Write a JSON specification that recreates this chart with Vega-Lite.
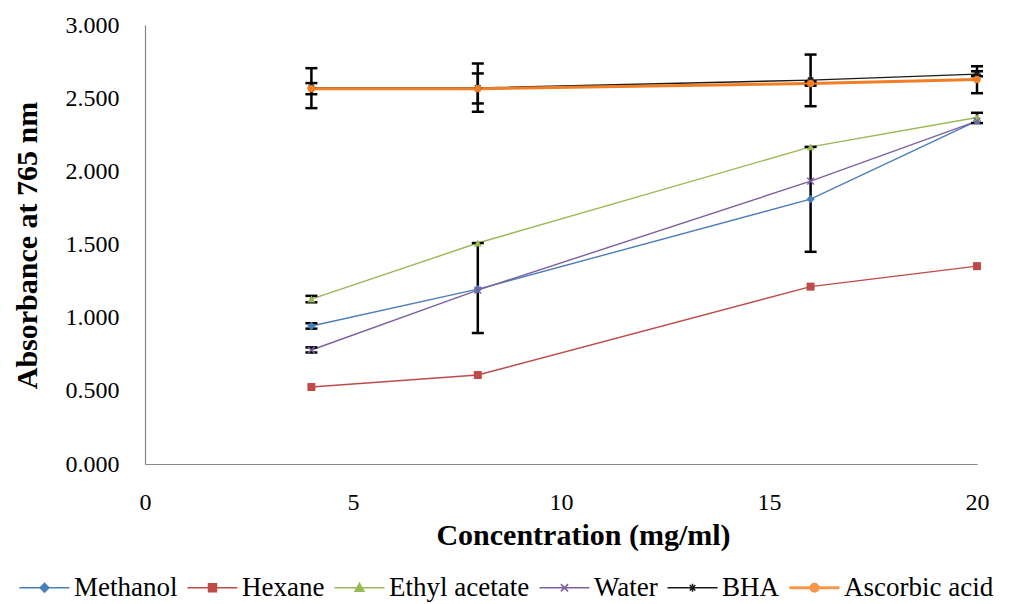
{
  "$schema": "https://vega.github.io/schema/vega-lite/v6.json",
  "width": 832,
  "height": 439,
  "autosize": {"type": "none"},
  "padding": {"left": 145, "top": 25, "right": 43, "bottom": 140},
  "background": "white",
  "datasets": {
    "series": [
      {"series": "Methanol", "conc": 4, "abs": 0.943},
      {"series": "Methanol", "conc": 8, "abs": 1.195},
      {"series": "Methanol", "conc": 16, "abs": 1.810},
      {"series": "Methanol", "conc": 20, "abs": 2.345},
      {"series": "Hexane", "conc": 4, "abs": 0.526},
      {"series": "Hexane", "conc": 8, "abs": 0.608},
      {"series": "Hexane", "conc": 16, "abs": 1.212},
      {"series": "Hexane", "conc": 20, "abs": 1.352},
      {"series": "Ethyl acetate", "conc": 4, "abs": 1.127},
      {"series": "Ethyl acetate", "conc": 8, "abs": 1.510},
      {"series": "Ethyl acetate", "conc": 16, "abs": 2.167},
      {"series": "Ethyl acetate", "conc": 20, "abs": 2.368},
      {"series": "Water", "conc": 4, "abs": 0.779},
      {"series": "Water", "conc": 8, "abs": 1.188},
      {"series": "Water", "conc": 16, "abs": 1.933},
      {"series": "Water", "conc": 20, "abs": 2.343},
      {"series": "BHA", "conc": 4, "abs": 2.570},
      {"series": "BHA", "conc": 8, "abs": 2.570},
      {"series": "BHA", "conc": 16, "abs": 2.623},
      {"series": "BHA", "conc": 20, "abs": 2.664},
      {"series": "Ascorbic acid", "conc": 4, "abs": 2.565},
      {"series": "Ascorbic acid", "conc": 8, "abs": 2.565},
      {"series": "Ascorbic acid", "conc": 16, "abs": 2.600},
      {"series": "Ascorbic acid", "conc": 20, "abs": 2.628}
    ],
    "err": [
      {"conc": 4, "lo": 2.432, "hi": 2.705},
      {"conc": 4, "lo": 2.527, "hi": 2.603},
      {"conc": 4, "lo": 1.105, "hi": 1.149},
      {"conc": 4, "lo": 0.925, "hi": 0.962},
      {"conc": 4, "lo": 0.762, "hi": 0.797},
      {"conc": 8, "lo": 2.407, "hi": 2.737},
      {"conc": 8, "lo": 2.464, "hi": 2.669},
      {"conc": 8, "lo": 0.895, "hi": 1.510},
      {"conc": 16, "lo": 2.445, "hi": 2.798},
      {"conc": 16, "lo": 2.585, "hi": 2.615},
      {"conc": 16, "lo": 1.450, "hi": 2.167},
      {"conc": 20, "lo": 2.534, "hi": 2.718},
      {"conc": 20, "lo": 2.650, "hi": 2.684},
      {"conc": 20, "lo": 2.330, "hi": 2.400}
    ]
  },
  "layer": [
    {
      "data": {"name": "series"},
      "mark": {"type": "line", "strokeWidth": 1.4},
      "encoding": {
        "x": {"field": "conc", "type": "quantitative", "title": "Concentration (mg/ml)",
              "scale": {"domain": [0, 20], "nice": false},
              "axis": {"values": [0, 5, 10, 15, 20], "titleX": 438, "titleY": 80, "titleBaseline": "alphabetic", "titleAlign": "center", "labelFlush": false, "labelOverlap": false}},
        "y": {"field": "abs", "type": "quantitative", "title": "Absorbance at 765 nm",
              "scale": {"domain": [0, 3], "nice": false},
              "axis": {"values": [0, 0.5, 1, 1.5, 2, 2.5, 3], "format": ".3f", "titleX": -118, "titleY": 220, "titleAngle": -90, "titleBaseline": "middle", "titleAlign": "center", "labelOverlap": false, "labelFlush": false}},
        "color": {
          "field": "series", "type": "nominal",
          "scale": {"domain": ["Methanol", "Hexane", "Ethyl acetate", "Water", "BHA", "Ascorbic acid"],
                    "range": ["#4A7EBB", "#BE4B48", "#98B954", "#7D60A0", "#1a1a1a", "#F79646"]},
          "legend": {
            "orient": "none", "direction": "horizontal", "title": null,
            "legendX": -135, "legendY": 549,
            "labelFont": "Liberation Serif", "labelFontSize": 27, "labelColor": "#000",
            "symbolSize": 64, "symbolOffset": 21, "labelOffset": 16, "columnPadding": 0,
            "encode": {
              "symbols": {
                "update": {
                  "shape": {"signal": "datum.value === 'Methanol' ? 'M-6.25,0H6.25M0,-1.1L1.1,0L0,1.1L-1.1,0Z' : datum.value === 'Hexane' ? 'M-6.25,0H6.25M-1,-1H1V1H-1Z' : datum.value === 'Ethyl acetate' ? 'M-6.25,0H6.25M0,-1.1L1.1,0.9H-1.1Z' : datum.value === 'Water' ? 'M-6.25,0H6.25M-0.9,-0.9L0.9,0.9M-0.9,0.9L0.9,-0.9' : datum.value === 'BHA' ? 'M-6.25,0H6.25M-1,0H1M0,-1V1M-0.7,-0.7L0.7,0.7M-0.7,0.7L0.7,-0.7' : 'M-6.25,0H6.25M-0.9,0A0.9,0.9 0 1,0 0.9,0A0.9,0.9 0 1,0 -0.9,0Z'"},
                  "stroke": {"signal": "scale('color', datum.value)"},
                  "fill": {"signal": "scale('color', datum.value)"},
                  "strokeWidth": {"signal": "datum.value === 'Ascorbic acid' ? 3 : 1.5"},
                  "opacity": {"value": 1}
                }
              }
            }
          }
        }
      }
    },
    {
      "data": {"name": "series"},
      "transform": [{"filter": {"field": "series", "equal": "Ascorbic acid"}}],
      "mark": {"type": "line", "strokeWidth": 3, "color": "#F07E26"},
      "encoding": {
        "x": {"field": "conc", "type": "quantitative"},
        "y": {"field": "abs", "type": "quantitative"}
      }
    },
    {
      "data": {"name": "err"},
      "mark": {"type": "rule", "color": "#000", "strokeWidth": 2.5},
      "encoding": {
        "x": {"field": "conc", "type": "quantitative", "title": "Concentration (mg/ml)"},
        "y": {"field": "lo", "type": "quantitative", "title": "Absorbance at 765 nm"},
        "y2": {"field": "hi"}
      }
    },
    {
      "data": {"name": "err"},
      "mark": {"type": "tick", "orient": "horizontal", "color": "#000", "size": 12, "thickness": 2.5, "opacity": 1},
      "encoding": {
        "x": {"field": "conc", "type": "quantitative", "title": "Concentration (mg/ml)"},
        "y": {"field": "lo", "type": "quantitative", "title": "Absorbance at 765 nm"}
      }
    },
    {
      "data": {"name": "err"},
      "mark": {"type": "tick", "orient": "horizontal", "color": "#000", "size": 12, "thickness": 2.5, "opacity": 1},
      "encoding": {
        "x": {"field": "conc", "type": "quantitative", "title": "Concentration (mg/ml)"},
        "y": {"field": "hi", "type": "quantitative", "title": "Absorbance at 765 nm"}
      }
    },
    {
      "data": {"name": "series"},
      "transform": [{"filter": {"field": "series", "equal": "Methanol"}}],
      "mark": {"type": "point", "shape": "diamond", "size": 70, "filled": true, "color": "#4A7EBB", "opacity": 1},
      "encoding": {"x": {"field": "conc", "type": "quantitative"}, "y": {"field": "abs", "type": "quantitative"}}
    },
    {
      "data": {"name": "series"},
      "transform": [{"filter": {"field": "series", "equal": "Hexane"}}],
      "mark": {"type": "point", "shape": "square", "size": 64, "filled": true, "color": "#BE4B48", "opacity": 1},
      "encoding": {"x": {"field": "conc", "type": "quantitative"}, "y": {"field": "abs", "type": "quantitative"}}
    },
    {
      "data": {"name": "series"},
      "transform": [{"filter": {"field": "series", "equal": "Ethyl acetate"}}],
      "mark": {"type": "point", "shape": "triangle-up", "size": 64, "filled": true, "color": "#98B954", "opacity": 1},
      "encoding": {"x": {"field": "conc", "type": "quantitative"}, "y": {"field": "abs", "type": "quantitative"}}
    },
    {
      "data": {"name": "series"},
      "transform": [{"filter": {"field": "series", "equal": "Water"}}],
      "mark": {"type": "point", "shape": "M-0.9,-0.9L0.9,0.9M-0.9,0.9L0.9,-0.9", "size": 55, "filled": false, "color": "#7D60A0", "strokeWidth": 1.5, "opacity": 1},
      "encoding": {"x": {"field": "conc", "type": "quantitative"}, "y": {"field": "abs", "type": "quantitative"}}
    },
    {
      "data": {"name": "series"},
      "transform": [{"filter": {"field": "series", "equal": "BHA"}}],
      "mark": {"type": "point", "shape": "M-1,0H1M0,-1V1M-0.7,-0.7L0.7,0.7M-0.7,0.7L0.7,-0.7", "size": 60, "filled": false, "color": "#1a1a1a", "strokeWidth": 1.5, "opacity": 1},
      "encoding": {"x": {"field": "conc", "type": "quantitative"}, "y": {"field": "abs", "type": "quantitative"}}
    },
    {
      "data": {"name": "series"},
      "transform": [{"filter": {"field": "series", "equal": "Ascorbic acid"}}],
      "mark": {"type": "point", "shape": "circle", "size": 55, "filled": true, "color": "#F07E26", "opacity": 1},
      "encoding": {"x": {"field": "conc", "type": "quantitative"}, "y": {"field": "abs", "type": "quantitative"}}
    }
  ],
  "config": {
    "view": {"stroke": null},
    "font": "Liberation Serif",
    "axis": {
      "grid": false,
      "ticks": false,
      "domainColor": "#868686",
      "domainWidth": 1.2,
      "labelFont": "Liberation Serif",
      "labelFontSize": 24,
      "labelColor": "#000",
      "labelPadding": 26,
      "titleFont": "Liberation Serif",
      "titleFontSize": 30,
      "titleFontWeight": "bold",
      "titleColor": "#000"
    }
  }
}
